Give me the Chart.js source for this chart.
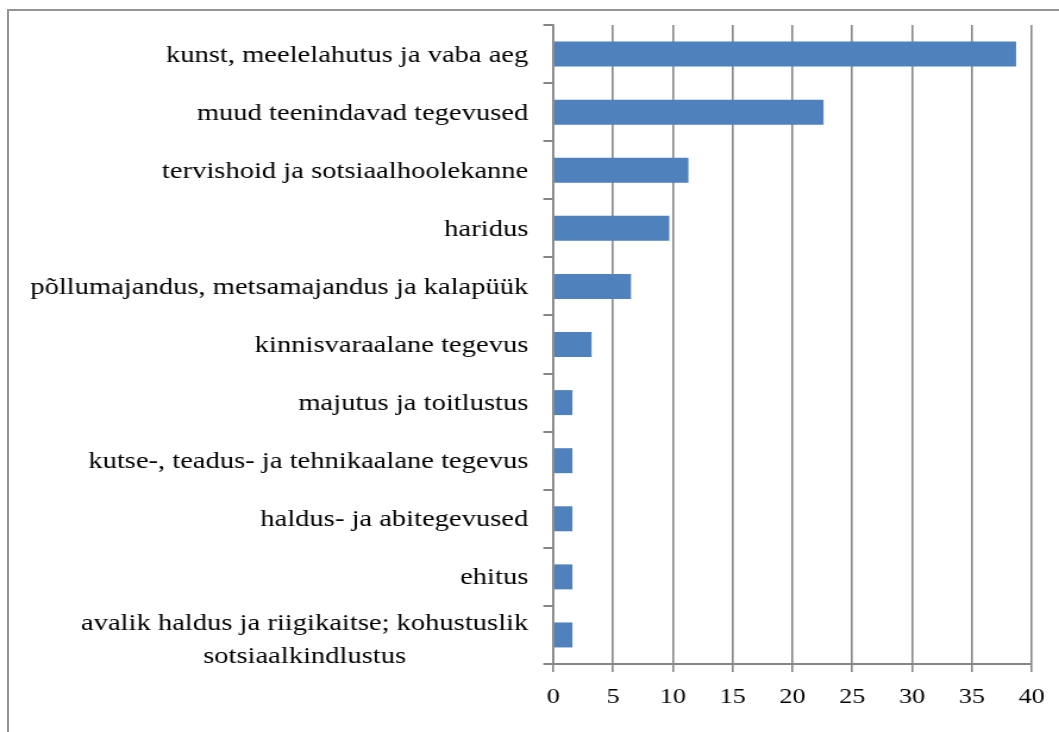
<!DOCTYPE html>
<html>
<head>
<meta charset="utf-8">
<script src="https://cdn.jsdelivr.net/npm/chart.js@4.4.1/dist/chart.umd.min.js"></script>
<style>
  html, body { margin: 0; padding: 0; background: #ffffff; overflow: hidden; width: 1059px; height: 732px; }
  #frame { position: absolute; left: 7px; top: 9px; width: 1200px; height: 900px;
           border-top: 2px solid #949494; border-left: 2px solid #949494; }
  #c { position: absolute; left: 0; top: 0; }
</style>
</head>
<body>
<div id="frame"></div>
<canvas id="c" width="890" height="732" style="width:1059px;height:732px;"></canvas>
<script>
// ---- data ----
const categories = [
  'kunst, meelelahutus ja vaba aeg',
  'muud teenindavad tegevused',
  'tervishoid ja sotsiaalhoolekanne',
  'haridus',
  'põllumajandus, metsamajandus ja kalapüük',
  'kinnisvaraalane tegevus',
  'majutus ja toitlustus',
  'kutse-, teadus- ja tehnikaalane tegevus',
  'haldus- ja abitegevused',
  'ehitus',
  ['avalik haldus ja riigikaitse; kohustuslik', 'sotsiaalkindlustus']
];
const values = [38.7, 22.6, 11.3, 9.7, 6.5, 3.2, 1.6, 1.6, 1.6, 1.6, 1.6];
const xTickMin = 0;
const xTickMax = 40;
const xTickStep = 5;

// ---- styling ----
const GRID = '#868686';
const BAR = '#4F81BD';
const FONT = '"Liberation Serif", "Times New Roman", serif';
const LABEL_SIZE = 24;
const TICK_SIZE = 22;

const yLabelPlugin = {
  id: 'yLabels',
  afterDraw(chart) {
    const ys = chart.scales.y;
    const ctx = chart.ctx;
    ctx.save();
    ctx.font = LABEL_SIZE + 'px ' + FONT;
    ctx.fillStyle = '#000000';
    ctx.textBaseline = 'alphabetic';
    const xr = ys.right - 21;
    chart.data.labels.forEach((lab, i) => {
      const y = ys.getPixelForTick(i);
      if (Array.isArray(lab)) {
        const w = Math.max(...lab.map(l => ctx.measureText(l).width));
        ctx.textAlign = 'center';
        const cx = xr - w / 2;
        const lh = 33;
        lab.forEach((l, k) => ctx.fillText(l, cx, y - 5 + k * lh));
      } else {
        ctx.textAlign = 'right';
        ctx.fillText(lab, xr, y + 7.5);
      }
    });
    ctx.restore();
  }
};

new Chart(document.getElementById('c'), {
  type: 'bar',
  data: {
    labels: categories,
    datasets: [{
      data: values,
      backgroundColor: BAR,
      borderWidth: 0,
      barPercentage: 0.43,
      categoryPercentage: 1.0
    }]
  },
  options: {
    indexAxis: 'y',
    responsive: false,
    animation: false,
    events: [],
    layout: { padding: { top: 25, right: 20, bottom: 0, left: 0 } },
    plugins: { legend: { display: false }, tooltip: { enabled: false } },
    scales: {
      x: {
        type: 'linear',
        position: 'bottom',
        min: xTickMin,
        max: xTickMax,
        ticks: {
          stepSize: xTickStep,
          color: '#000000',
          font: { family: FONT, size: TICK_SIZE },
          padding: 12,
          maxRotation: 0
        },
        grid: {
          color: GRID,
          lineWidth: 1.6,
          drawTicks: true,
          tickLength: 8,
          tickColor: GRID,
          tickWidth: 1.6
        },
        border: { display: true, color: GRID, width: 2 },
        afterFit(scale) { scale.height = 68; }
      },
      y: {
        type: 'category',
        position: 'left',
        ticks: { display: false },
        grid: {
          drawOnChartArea: false,
          drawTicks: true,
          tickLength: 8.4,
          color: GRID,
          lineWidth: 2,
          offset: true
        },
        border: { display: true, color: GRID, width: 1.7 },
        afterFit(scale) { scale.width = 465; }
      }
    }
  },
  plugins: [yLabelPlugin]
});
</script>
</body>
</html>
